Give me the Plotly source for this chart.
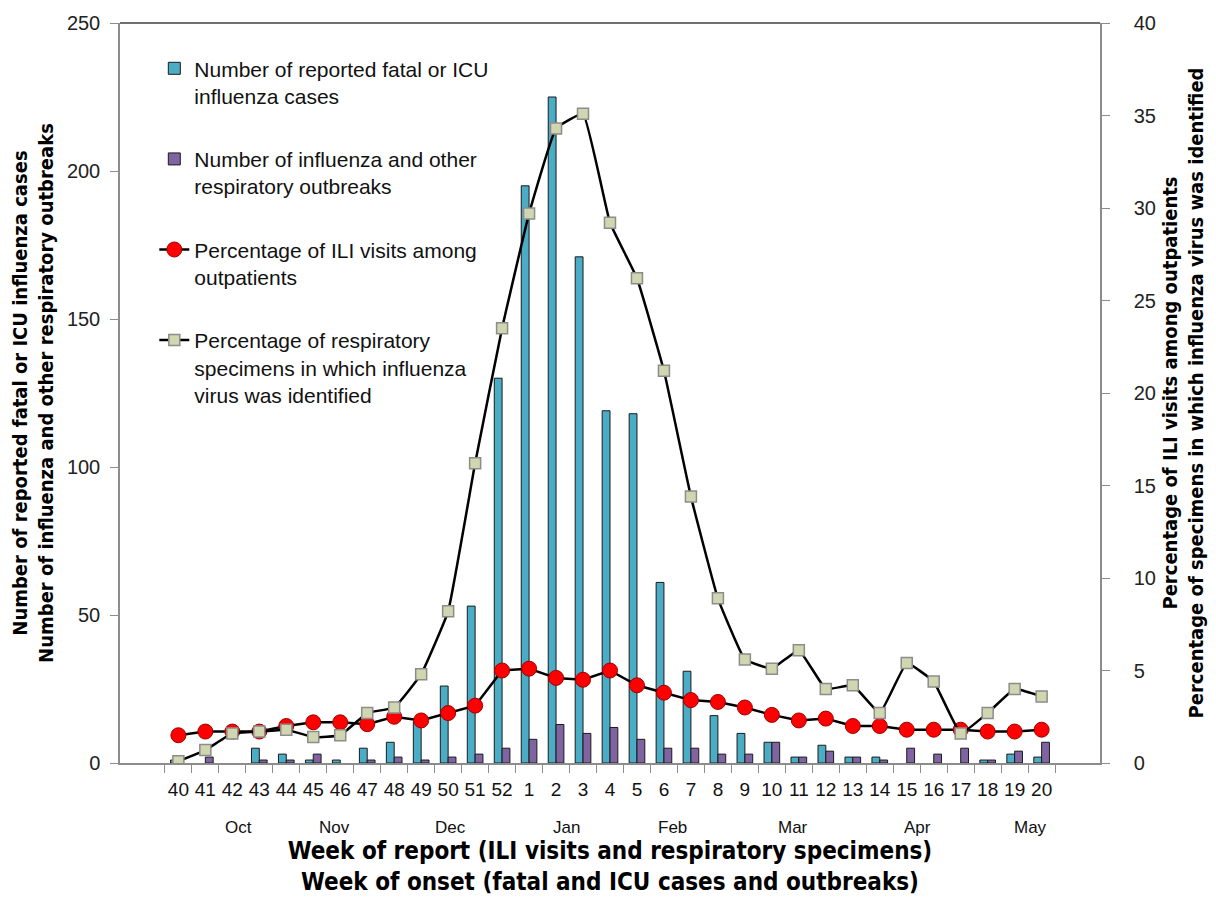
import plotly.graph_objects as go

weeks = ["40", "41", "42", "43", "44", "45", "46", "47", "48", "49", "50", "51", "52",
         "1", "2", "3", "4", "5", "6", "7", "8", "9", "10", "11", "12", "13", "14",
         "15", "16", "17", "18", "19", "20"]
fatal_icu = [1, 0, 0, 5, 3, 1, 1, 5, 7, 14, 26, 53, 130,
             195, 225, 171, 119, 118, 61, 31, 16, 10, 7, 2, 6, 2, 2, 0, 0, 0, 1, 3, 2]
outbreaks = [0, 2, 0, 1, 1, 3, 0, 1, 2, 1, 2, 3, 5,
             8, 13, 10, 12, 8, 5, 5, 3, 3, 7, 2, 4, 2, 1, 5, 3, 5, 1, 4, 7]
ili_pct = [1.5, 1.7, 1.7, 1.7, 2.0, 2.2, 2.2, 2.1, 2.5, 2.3, 2.7, 3.1, 5.0,
           5.1, 4.6, 4.5, 5.0, 4.2, 3.8, 3.4, 3.3, 3.0, 2.6, 2.3, 2.4, 2.0, 2.0,
           1.8, 1.8, 1.8, 1.7, 1.7, 1.8]
spec_pct = [0.1, 0.7, 1.6, 1.7, 1.8, 1.4, 1.5, 2.7, 3.0, 4.8, 8.2, 16.2, 23.5,
            29.7, 34.3, 35.1, 29.2, 26.2, 21.2, 14.4, 8.9, 5.6, 5.1, 6.1, 4.0, 4.2,
            2.7, 5.4, 4.4, 1.6, 2.7, 4.0, 3.6]
months = ["Oct", "Nov", "Dec", "Jan", "Feb", "Mar", "Apr", "May"]
month_pos = [2.23, 5.8, 10.1, 14.4, 18.3, 22.8, 27.4, 31.6]
left_ticks = [0, 50, 100, 150, 200, 250]
right_ticks = [0, 5, 10, 15, 20, 25, 30, 35, 40]

FONT = "Liberation Sans, Arial, sans-serif"
NARROW = "Liberation Sans Narrow, Arial Narrow, DejaVu Sans Condensed, Liberation Sans, sans-serif"

# zero counts are drawn as no bar
fatal_plot = [v if v else None for v in fatal_icu]
outb_plot = [v if v else None for v in outbreaks]

fig = go.Figure()
fig.add_trace(go.Bar(
    x=weeks, y=fatal_plot, name="Number of reported fatal or ICU<br>influenza cases",
    marker=dict(color="#4BACC6", line=dict(color="#1a1a1a", width=1)),
    legendgroup="a", yaxis="y"))
fig.add_trace(go.Bar(
    x=weeks, y=outb_plot, name="Number of influenza and other<br>respiratory outbreaks",
    marker=dict(color="#8064A2", line=dict(color="#1a1a1a", width=1)),
    legendgroup="b", yaxis="y"))
fig.add_trace(go.Scatter(
    x=weeks, y=ili_pct, name="Percentage of ILI visits among<br>outpatients",
    mode="lines+markers", line=dict(color="#000000", width=2.5),
    marker=dict(symbol="circle", size=15, color="#FF0000", line=dict(color="#A00000", width=1)),
    legendgroup="c", yaxis="y2"))
fig.add_trace(go.Scatter(
    x=weeks, y=spec_pct,
    name="Percentage of respiratory<br>specimens in which influenza<br>virus was identified",
    mode="lines+markers", line=dict(color="#000000", width=2.5, shape="spline", smoothing=0.3),
    marker=dict(symbol="square", size=11, color="#D0D7B0", line=dict(color="#8C8C8C", width=1.5)),
    legendgroup="d", yaxis="y2"))

for m, p in zip(months, month_pos):
    fig.add_annotation(x=p, y=-0.087, xref="x", yref="paper", text=m, showarrow=False,
                       font=dict(family=FONT, size=17, color="#111111"), yanchor="middle")

fig.add_shape(type="line", xref="paper", yref="paper", x0=0, x1=1, y0=1, y1=1,
              line=dict(color="#404040", width=1.5))

fig.update_layout(
    width=1200, height=888,
    margin=dict(l=112, r=108, t=15, b=133),
    paper_bgcolor="white", plot_bgcolor="white",
    barmode="group", bargap=0.42, bargroupgap=0,
    font=dict(family=FONT, color="#111111"),
    showlegend=True,
    legend=dict(x=0.035, y=0.966, xanchor="left", yanchor="top", bgcolor="rgba(0,0,0,0)",
                font=dict(family=FONT, size=21, color="#111111"),
                tracegroupgap=33, itemwidth=30, valign="top", traceorder="grouped"),
    xaxis=dict(type="category", showgrid=False, showline=True, linecolor="#8C8C8C", linewidth=1.5,
               ticks="outside", tickson="boundaries", ticklen=8, tickcolor="#8C8C8C",
               tickangle=0, automargin=False, ticklabelstandoff=8,
               tickfont=dict(family=FONT, size=19, color="#111111"),
               title=dict(text="<b>Week of report (ILI visits and respiratory specimens)<br>Week of onset (fatal and ICU cases and outbreaks)</b>",
                          font=dict(family=NARROW, size=24, color="#000000"), standoff=68)),
    yaxis=dict(range=[0, 250], tickvals=left_ticks, showgrid=False, zeroline=False,
               showline=True, linecolor="#8C8C8C", linewidth=1.5, ticks="outside", ticklen=8,
               tickcolor="#8C8C8C", ticklabelstandoff=6, automargin=False,
               tickfont=dict(family=FONT, size=20, color="#222222"),
               title=dict(text="<b>Number of reported fatal or ICU influenza cases<br>Number of influenza and other respiratory outbreaks</b>",
                          font=dict(family=NARROW, size=20, color="#000000"), standoff=10)),
    yaxis2=dict(range=[0, 40], tickvals=right_ticks, overlaying="y", side="right",
                showgrid=False, zeroline=False, showline=True, linecolor="#8C8C8C", linewidth=1.5,
                ticks="outside", ticklen=8, tickcolor="#8C8C8C", ticklabelstandoff=20,
                automargin=False,
                tickfont=dict(family=FONT, size=20, color="#222222"),
                title=dict(text="<b>Percentage of ILI visits among outpatients<br>Percentage of specimens in which influenza virus was identified</b>",
                           font=dict(family=NARROW, size=20, color="#000000"), standoff=24)),
)

fig.write_html("out.html")
